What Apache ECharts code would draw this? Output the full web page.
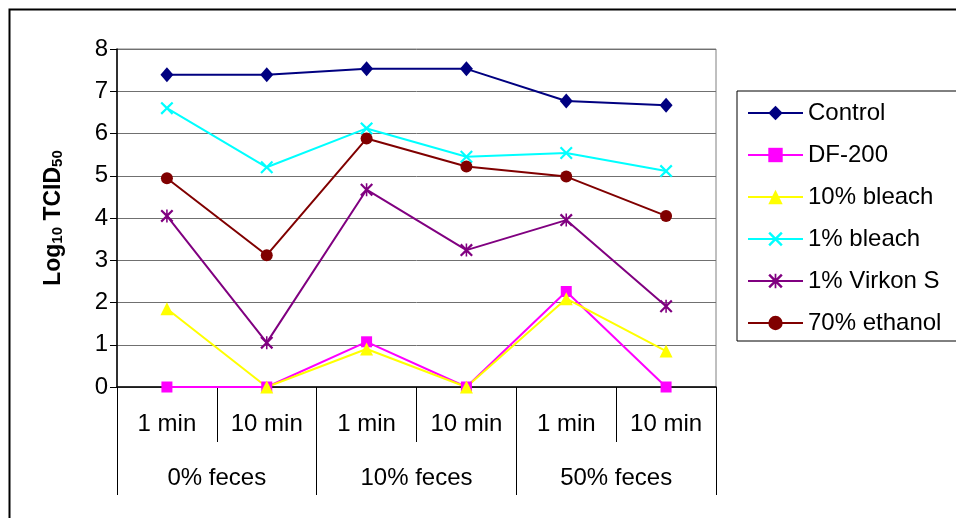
<!DOCTYPE html>
<html>
<head>
<meta charset="utf-8">
<script src="https://cdn.jsdelivr.net/npm/echarts@6/dist/echarts.min.js"></script>
<style>html,body{margin:0;padding:0;background:#fff;}#c{width:956px;height:518px;}</style>
</head>
<body>
<div id="c"></div>
<script>
var timeLabels = ['1 min','10 min','1 min','10 min','1 min','10 min'];
var groupLabels = ['0% feces','10% feces','50% feces'];
var yTicks = [0,1,2,3,4,5,6,7,8];
var seriesNames = ['Control','DF-200','10% bleach','1% bleach','1% Virkon S','70% ethanol'];
var control  = [7.39, 7.39, 7.53, 7.53, 6.77, 6.67];
var df200    = [0, 0, 1.07, 0, 2.26, 0];
var bleach10 = [1.85, 0, 0.9, 0, 2.09, 0.85];
var bleach1  = [6.6, 5.2, 6.12, 5.45, 5.54, 5.11];
var virkon   = [4.05, 1.05, 4.67, 3.24, 3.95, 1.91];
var ethanol  = [4.94, 3.12, 5.88, 5.22, 4.98, 4.05];

var FONT = '"Liberation Sans", Arial, sans-serif';
var xPath = 'path://M0,1.2L1.2,0L5,3.8L8.8,0L10,1.2L6.2,5L10,8.8L8.8,10L5,6.2L1.2,10L0,8.8L3.8,5Z';
var starPath = 'path://M0,1.2L1.2,0L5,3.8L8.8,0L10,1.2L6.2,5L10,8.8L8.8,10L5,6.2L1.2,10L0,8.8L3.8,5Z M4.4,0L5.6,0L5.6,10L4.4,10Z';

function mk(name, data, color, symbol, size) {
  return {
    name: name, type: 'line', data: data, xAxisIndex: 0,
    symbol: symbol, symbolSize: size, showSymbol: true,
    lineStyle: { color: color, width: 2 },
    itemStyle: { color: color },
    emphasis: { disabled: true },
    animation: false
  };
}

var chart = echarts.init(document.getElementById('c'), null, { renderer: 'canvas' });
chart.setOption({
  backgroundColor: '#fff',
  animation: false,
  textStyle: { fontFamily: FONT, color: '#000' },
  graphic: [{
    type: 'rect', left: 7, top: 7,
    shape: { width: 1000, height: 1000 },
    style: { fill: 'none', stroke: '#000', lineWidth: 2 },
    silent: true
  }],
  grid: { left: 117, right: 240, top: 49, bottom: 131, show: true, borderColor: '#808080', borderWidth: 1, backgroundColor: 'transparent' },
  legend: {
    orient: 'vertical', left: 737, top: 91,
    data: seriesNames,
    itemWidth: 55, itemHeight: 18, itemGap: 18,
    padding: [10, 40, 6, 10],
    borderColor: '#000', borderWidth: 1,
    textStyle: { fontFamily: FONT, fontSize: 24, color: '#000', lineHeight: 24 },
    selectedMode: false
  },
  xAxis: [{
    type: 'category', position: 'bottom', data: timeLabels, boundaryGap: true,
    axisLine: { show: true, lineStyle: { color: '#000', width: 1.5 } },
    axisTick: { show: true, interval: 0, alignWithLabel: false, length: 55, lineStyle: { color: '#000', width: 1 } },
    axisLabel: { interval: 0, margin: 25, fontSize: 24, color: '#000', fontFamily: FONT },
    splitLine: { show: false }
  }, {
    type: 'category', position: 'bottom', data: groupLabels, boundaryGap: true,
    axisLine: { show: false },
    axisTick: { show: true, interval: 0, alignWithLabel: false, length: 108, lineStyle: { color: '#000', width: 1 } },
    axisLabel: { interval: 0, margin: 79, fontSize: 24, color: '#000', fontFamily: FONT },
    splitLine: { show: false }
  }],
  yAxis: {
    type: 'value', min: yTicks[0], max: yTicks[yTicks.length - 1], interval: 1,
    name: '{a|Log}{s|10}{a| TCID}{s|50}',
    nameLocation: 'middle', nameRotate: 90, nameGap: 52,
    nameTextStyle: {
      rich: {
        a: { fontFamily: FONT, fontSize: 23, fontWeight: 'bold', color: '#000', verticalAlign: 'bottom', lineHeight: 28 },
        s: { fontFamily: FONT, fontSize: 15, fontWeight: 'bold', color: '#000', verticalAlign: 'bottom', lineHeight: 20 }
      }
    },
    axisLine: { show: true, lineStyle: { color: '#000', width: 1.5 } },
    axisTick: { show: true, length: 7, lineStyle: { color: '#000' } },
    axisLabel: { fontSize: 24, color: '#000', margin: 9, fontFamily: FONT },
    splitLine: { show: true, lineStyle: { color: '#707070', width: 1 } }
  },
  series: [
    mk('Control', control, '#000080', 'diamond', [13, 15]),
    mk('DF-200', df200, '#FF00FF', 'rect', 11),
    mk('10% bleach', bleach10, '#FFFF00', 'triangle', 13),
    mk('1% bleach', bleach1, '#00FFFF', xPath, 13),
    mk('1% Virkon S', virkon, '#800080', starPath, 13),
    mk('70% ethanol', ethanol, '#800000', 'circle', 12)
  ]
});
</script>
</body>
</html>
